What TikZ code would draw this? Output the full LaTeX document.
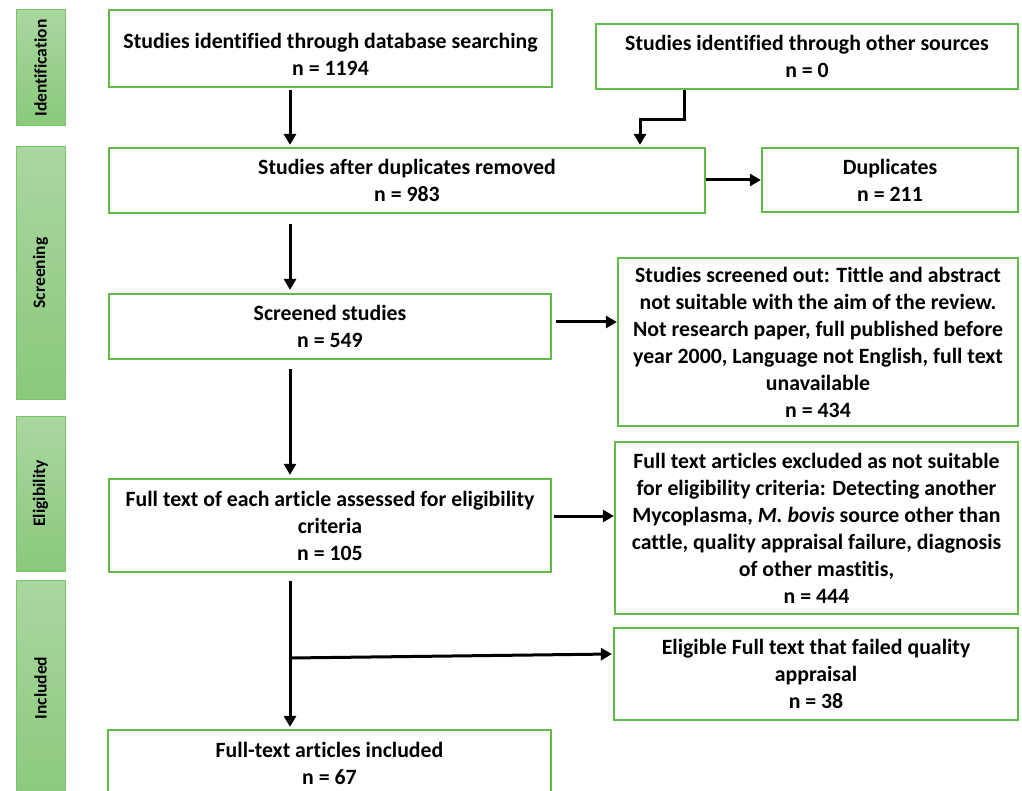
\documentclass[tikz,border=0pt]{standalone}
\usepackage{fontspec}
\setmainfont{Carlito}[Ligatures=NoCommon]
\usetikzlibrary{arrows.meta}
\definecolor{boxgreen}{RGB}{98,186,72}
\definecolor{bartop}{RGB}{170,214,160}
\definecolor{barbot}{RGB}{138,201,124}
\definecolor{barline}{RGB}{120,196,104}
\tikzset{
  box/.style={draw=boxgreen, line width=2.2pt, fill=white, inner sep=0pt, align=center,
    font=\fontsize{21.8}{27}\selectfont\bfseries},
  txt/.style={align=center, font=\fontsize{21.8}{27}\selectfont\bfseries, inner sep=0pt},
  bar/.style={draw=barline, line width=1pt, top color=bartop, bottom color=barbot, inner sep=0pt},
  bartext/.style={rotate=90, font=\fontsize{17.5}{20}\selectfont\bfseries},
  arr/.style={line width=3pt, -{Triangle[length=11pt,width=12pt]}},
}
\begin{document}
\begin{tikzpicture}[x=1pt,y=-1pt]
\useasboundingbox (0,0) rectangle (1022,791);
\clip (0,0) rectangle (1022,791);
% side bars
\node[bar, minimum width=49pt, minimum height=116pt] (sb1) at (40.5,68) {};
\node[bartext] (sbt1) at (sb1.center) {Identification};
\node[bar, minimum width=49pt, minimum height=252pt] (sb2) at (40.5,273) {};
\node[bartext] (sbt2) at (sb2.center) {Screening};
\node[bar, minimum width=49pt, minimum height=155pt] (sb3) at (40.5,493.5) {};
\node[bartext] (sbt3) at (sb3.center) {Eligibility};
\node[bar, minimum width=49pt, minimum height=230pt] (sb4) at (40.5,695) {};
\node[bartext] (sbt4) at (40.5,688) {Included};
% boxes
\node[box, minimum width=443pt, minimum height=77pt] (b1) at (330.5,48.5) {};
\node[txt] (t1) at (330.5,54.5) {Studies identified through database searching\\n = 1194};
\node[box, minimum width=422pt, minimum height=65pt] (b2) at (807,56.5) {Studies identified through other sources\\n = 0};
\node[box, minimum width=596pt, minimum height=65pt] (b3) at (407,180.5) {Studies after duplicates removed\\n = 983};
\node[box, minimum width=256pt, minimum height=64pt] (dup) at (890,180) {Duplicates\\n = 211};
\node[box, minimum width=442pt, minimum height=65pt] (scr) at (330,326.5) {Screened studies\\n = 549};
\node[box, minimum width=400pt, minimum height=168pt] (out) at (818,342) {Studies screened out: Tittle and abstract\\not suitable with the aim of the review.\\Not research paper, full published before\\year 2000, Language not English, full text\\unavailable\\n = 434};
\node[box, minimum width=403pt, minimum height=172pt] (exc) at (816.5,528) {Full text articles excluded as not suitable\\for eligibility criteria: Detecting another\\Mycoplasma, \textit{M. bovis} source other than\\cattle, quality appraisal failure, diagnosis\\of other mastitis,\\n = 444};
\node[box, minimum width=442pt, minimum height=93pt] (ft) at (330,525.5) {Full text of each article assessed for eligibility\\criteria\\n = 105};
\node[box, minimum width=404pt, minimum height=92pt] (elig) at (816,674) {Eligible Full text that failed quality\\appraisal\\n = 38};
\node[box, minimum width=443pt, minimum height=80pt] (inc) at (329.5,770) {};
\node[txt] (tinc) at (329.5,763.5) {Full-text articles included\\n = 67};
% helper coordinates
\coordinate (mx) at (290,0);
\coordinate (k1) at (684,120);
\coordinate (k2) at (640,120);
\coordinate (br) at (290,658);
% connectors
\draw[arr, shorten <=2pt, shorten >=2pt] (b1.south -| mx) -- (b3.north -| mx);
\draw[arr, shorten >=2pt] (b2.south -| k1) -- (k1) -- (k2) -- (b3.north -| k2);
\draw[arr] (b3.east |- dup.west) -- (dup.west);
\draw[arr, shorten <=10pt, shorten >=3pt] (b3.south -| mx) -- (scr.north -| mx);
\draw[arr, shorten <=4pt] (scr.east |- 0,322) -- (out.west |- 0,322);
\draw[arr, shorten <=9pt, shorten >=3pt] (scr.south -| mx) -- (ft.north -| mx);
\draw[arr, shorten <=2pt] (ft.east |- 0,516) -- (exc.west |- 0,516);
\draw[arr, shorten <=8pt, shorten >=2pt] (ft.south -| mx) -- (inc.north -| mx);
\draw[arr, shorten >=1pt] (br) -- (elig.west |- 0,654);
\end{tikzpicture}
\end{document}
